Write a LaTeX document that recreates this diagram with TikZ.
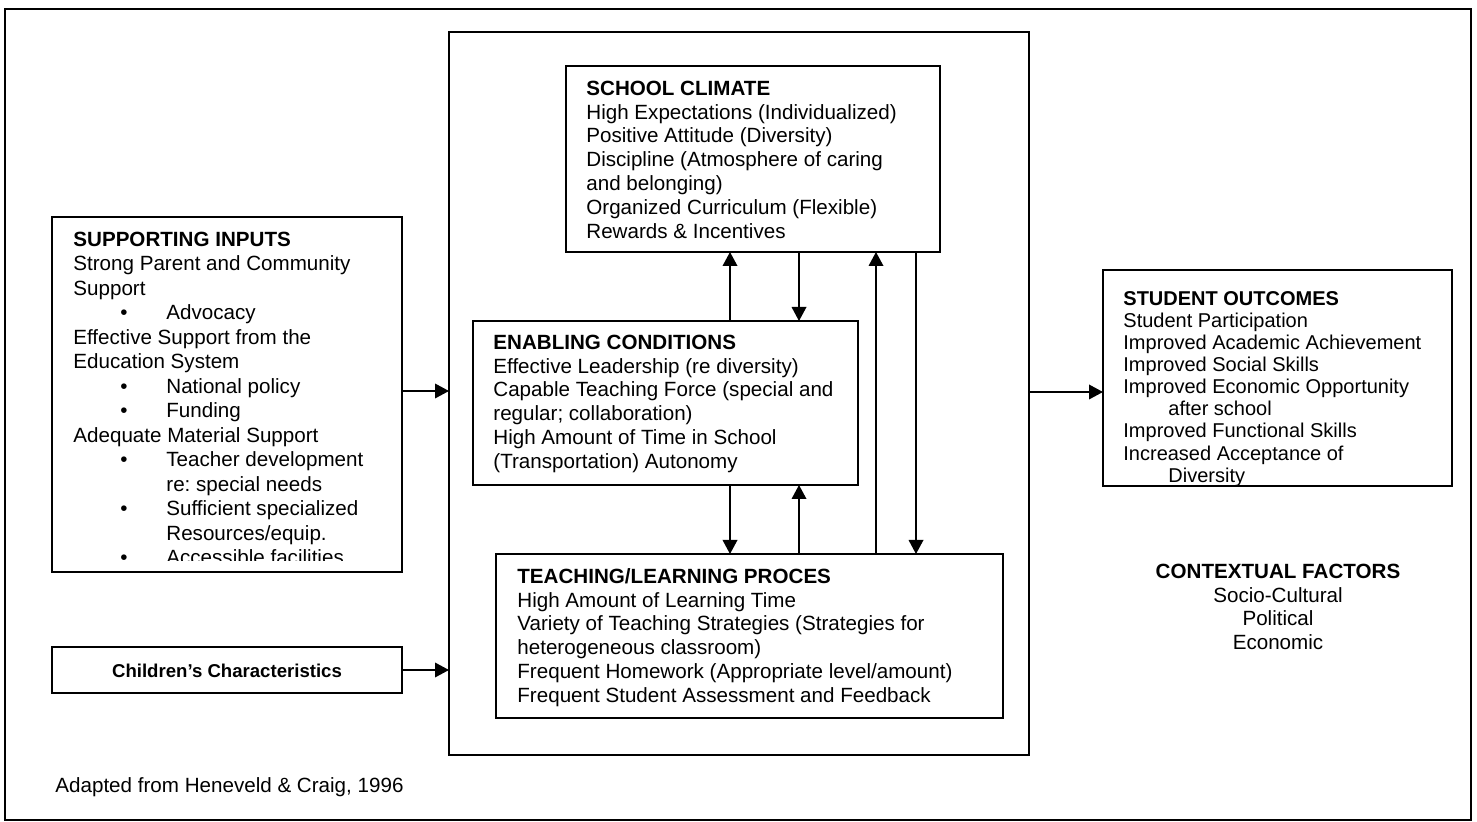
\documentclass[tikz,border=0pt]{standalone}
\usepackage{fontspec}
\setmainfont{Liberation Sans}
\usetikzlibrary{arrows.meta}
\frenchspacing
\begin{document}
\begin{tikzpicture}[x=0.5pt,y=-0.5pt,
  box/.style={draw, line width=1pt, anchor=north west, inner sep=0pt, outer sep=0pt},
  txt/.style={anchor=north west, inner sep=0pt, align=left, font=\fontsize{10.3}{11.9}\selectfont},
  arr/.style={line width=0.8pt, -{Triangle[width=7.3pt,length=7pt]}},
  ]
\useasboundingbox (0,0) rectangle (1477,822);
% frames and boxes
\node[box, minimum width=733pt, minimum height=405.5pt] (frame) at (5,9) {};
\node[box, minimum width=290pt, minimum height=361.5pt] (big) at (449,32) {};
\node[box, minimum width=187pt, minimum height=93pt] (sc) at (566,66) {};
\node[box, minimum width=192.5pt, minimum height=82pt] (ec) at (473,321) {};
\node[box, minimum width=253.5pt, minimum height=82pt] (tl) at (496,554) {};
\node[box, minimum width=175pt, minimum height=177.5pt] (si) at (52,217) {};
\node[box, minimum width=175pt, minimum height=23pt] (ch) at (52,647) {};
\node[box, minimum width=174.5pt, minimum height=108pt] (so) at (1103,270) {};

% texts
\node[txt] (sct) at (586,79) {\rule{0pt}{8pt}\textbf{SCHOOL CLIMATE}\\
High Expectations (Individualized)\\
Positive Attitude (Diversity)\\
Discipline (Atmosphere of caring\\
and belonging)\\
Organized Curriculum (Flexible)\\
Rewards \& Incentives};

\node[txt] (ect) at (493,333) {\rule{0pt}{8pt}\textbf{ENABLING CONDITIONS}\\
Effective Leadership (re diversity)\\
Capable Teaching Force (special and\\
regular; collaboration)\\
High Amount of Time in School\\
(Transportation) Autonomy};

\node[txt] (tlt) at (517,567) {\rule{0pt}{8pt}\textbf{TEACHING/LEARNING PROCES}\\
High Amount of Learning Time\\
Variety of Teaching Strategies (Strategies for\\
heterogeneous classroom)\\
Frequent Homework (Appropriate level/amount)\\
Frequent Student Assessment and Feedback};

\node[txt, font=\fontsize{10}{11.05}\selectfont] (sot) at (1123,289) {\rule{0pt}{8pt}\textbf{STUDENT OUTCOMES}\\
Student Participation\\
Improved Academic Achievement\\
Improved Social Skills\\
Improved Economic Opportunity\\
\hspace*{22.5pt}after school\\
Improved Functional Skills\\
Increased Acceptance of\\
\hspace*{22.5pt}Diversity};

\begin{scope}
\clip (52,217) rectangle (402,561);
\node[txt, font=\fontsize{10.3}{12.25}\selectfont] (sit) at (73,230) {\rule{0pt}{8pt}\textbf{SUPPORTING INPUTS}\\
Strong Parent and Community\\
Support\\
\hspace*{23.5pt}\makebox[23pt][l]{\textbullet}Advocacy\\
Effective Support from the\\
Education System\\
\hspace*{23.5pt}\makebox[23pt][l]{\textbullet}National policy\\
\hspace*{23.5pt}\makebox[23pt][l]{\textbullet}Funding\\
Adequate Material Support\\
\hspace*{23.5pt}\makebox[23pt][l]{\textbullet}Teacher development\\
\hspace*{46.5pt}re: special needs\\
\hspace*{23.5pt}\makebox[23pt][l]{\textbullet}Sufficient specialized\\
\hspace*{46.5pt}Resources/equip.\\
\hspace*{23.5pt}\makebox[23pt][l]{\textbullet}Accessible facilities};
\end{scope}

\node[anchor=base, inner sep=0pt, font=\fontsize{9.3}{11}\selectfont\bfseries] (cht) at (227,677) {Children’s Characteristics};

\node[anchor=north, inner sep=0pt, align=center, font=\fontsize{10.3}{11.85}\selectfont] (cf) at (1278,562) {\rule{0pt}{8pt}\textbf{CONTEXTUAL FACTORS}\\
Socio-Cultural\\
Political\\
Economic};

\node[anchor=base west, inner sep=0pt, font=\fontsize{10.3}{12}\selectfont] (src) at (55,792) {Adapted from Heneveld \& Craig, 1996};

% connectors
\coordinate (xa) at (730,0);
\coordinate (xb) at (799,0);
\coordinate (xc) at (876,0);
\coordinate (xd) at (916,0);
\coordinate (ya) at (0,391);
\coordinate (yb) at (0,392);
\draw[arr] (ec.north -| xa) -- (sc.south -| xa);
\draw[arr] (sc.south -| xb) -- (ec.north -| xb);
\draw[arr] (ec.south -| xa) -- (tl.north -| xa);
\draw[arr] (tl.north -| xb) -- (ec.south -| xb);
\draw[arr] (tl.north -| xc) -- (sc.south -| xc);
\draw[arr] (sc.south -| xd) -- (tl.north -| xd);
\draw[arr] (si.east |- ya) -- (big.west |- ya);
\draw[arr] (ch.east) -- (big.west |- ch.east);
\draw[arr] (big.east |- yb) -- (so.west |- yb);
\end{tikzpicture}
\end{document}
